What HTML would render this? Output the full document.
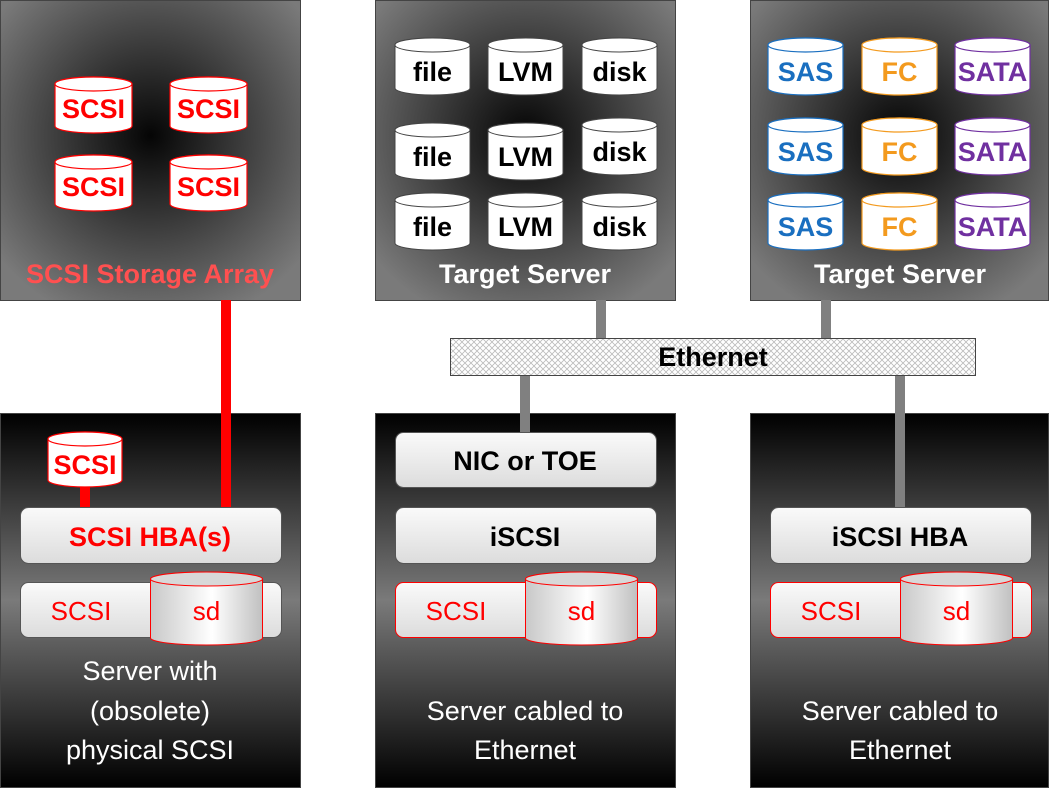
<!DOCTYPE html>
<html><head><meta charset="utf-8"><style>
html,body{margin:0;padding:0;background:#fff;}
svg{display:block;font-family:"Liberation Sans",sans-serif;}
</style></head><body>
<svg width="1050" height="788" viewBox="0 0 1050 788" xmlns="http://www.w3.org/2000/svg">
<defs>
<radialGradient id="rg" cx="50%" cy="45%" r="65%">
<stop offset="0" stop-color="#050505"/><stop offset="1" stop-color="#7a7a7a"/></radialGradient>
<linearGradient id="lg" x1="0" y1="0" x2="0" y2="1">
<stop offset="0" stop-color="#000"/><stop offset="0.5" stop-color="#7a7a7a"/><stop offset="1" stop-color="#000"/></linearGradient>
<linearGradient id="box" x1="0" y1="0" x2="0" y2="1">
<stop offset="0" stop-color="#fafafa"/><stop offset="1" stop-color="#dcdcdc"/></linearGradient>
<linearGradient id="cyl" x1="0" y1="0" x2="1" y2="0">
<stop offset="0" stop-color="#c8c8c8"/><stop offset="0.55" stop-color="#ffffff"/><stop offset="1" stop-color="#c0c0c0"/></linearGradient>
<pattern id="hatch" width="6" height="6" patternUnits="userSpaceOnUse">
<rect width="6" height="6" fill="#fff"/><path d="M0 0L6 6M6 0L0 6" stroke="#bbb" stroke-width="0.8"/></pattern>
</defs>

<rect x="0.5" y="0.5" width="300" height="300" fill="url(#rg)" stroke="#444"/>
<rect x="375.5" y="0.5" width="300" height="300" fill="url(#rg)" stroke="#444"/>
<rect x="750.5" y="0.5" width="298" height="300" fill="url(#rg)" stroke="#444"/>
<rect x="0.5" y="413.5" width="300" height="374" fill="url(#lg)" stroke="#444"/>
<rect x="375.5" y="413.5" width="300" height="374" fill="url(#lg)" stroke="#444"/>
<rect x="750.5" y="413.5" width="298" height="374" fill="url(#lg)" stroke="#444"/>

<rect x="596" y="300" width="10" height="38" fill="#808080"/>
<rect x="821" y="300" width="10" height="38" fill="#808080"/>
<rect x="520" y="375" width="10" height="57" fill="#808080"/>
<rect x="895" y="375" width="10" height="132" fill="#808080"/>
<rect x="221" y="300" width="10" height="207" fill="#f00"/>
<rect x="80" y="487" width="10" height="20" fill="#f00"/>

<rect x="450.5" y="338.5" width="525" height="37" fill="url(#hatch)" stroke="#444"/>
<text x="713" y="366" font-size="27" font-weight="bold" text-anchor="middle" fill="#000">Ethernet</text>

<g stroke="#f00" stroke-width="1.2" fill="#fff">
<path d="M55 84A38.5 7 0 0 1 132 84V126A38.5 7 0 0 1 55 126Z"/><ellipse cx="93.5" cy="84" rx="38.5" ry="7"/>
<path d="M170 84A38.5 7 0 0 1 247 84V126A38.5 7 0 0 1 170 126Z"/><ellipse cx="208.5" cy="84" rx="38.5" ry="7"/>
<path d="M55 162A38.5 7 0 0 1 132 162V204A38.5 7 0 0 1 55 204Z"/><ellipse cx="93.5" cy="162" rx="38.5" ry="7"/>
<path d="M170 162A38.5 7 0 0 1 247 162V204A38.5 7 0 0 1 170 204Z"/><ellipse cx="208.5" cy="162" rx="38.5" ry="7"/>
<path d="M48 439A37 7 0 0 1 122 439V480A37 7 0 0 1 48 480Z"/><ellipse cx="85" cy="439" rx="37" ry="7"/>
</g>
<g fill="#f00" font-size="27" font-weight="bold" text-anchor="middle">
<text x="93.5" y="118">SCSI</text><text x="208.5" y="118">SCSI</text>
<text x="93.5" y="196">SCSI</text><text x="208.5" y="196">SCSI</text>
<text x="85" y="474">SCSI</text>
</g>
<text x="150" y="283" font-size="27" font-weight="bold" fill="#ff5050" text-anchor="middle">SCSI Storage Array</text>

<g stroke="#444" stroke-width="1" fill="#fff">
<path d="M395 45A37.5 7 0 0 1 470 45V88A37.5 7 0 0 1 395 88Z"/><ellipse cx="432.5" cy="45" rx="37.5" ry="7"/>
<path d="M488 45A37.5 7 0 0 1 563 45V88A37.5 7 0 0 1 488 88Z"/><ellipse cx="525.5" cy="45" rx="37.5" ry="7"/>
<path d="M582 45A37.5 7 0 0 1 657 45V88A37.5 7 0 0 1 582 88Z"/><ellipse cx="619.5" cy="45" rx="37.5" ry="7"/>
<path d="M395 130A37.5 7 0 0 1 470 130V173A37.5 7 0 0 1 395 173Z"/><ellipse cx="432.5" cy="130" rx="37.5" ry="7"/>
<path d="M488 130A37.5 7 0 0 1 563 130V173A37.5 7 0 0 1 488 173Z"/><ellipse cx="525.5" cy="130" rx="37.5" ry="7"/>
<path d="M582 125A37.5 7 0 0 1 657 125V168A37.5 7 0 0 1 582 168Z"/><ellipse cx="619.5" cy="125" rx="37.5" ry="7"/>
<path d="M395 200A37.5 7 0 0 1 470 200V243A37.5 7 0 0 1 395 243Z"/><ellipse cx="432.5" cy="200" rx="37.5" ry="7"/>
<path d="M488 200A37.5 7 0 0 1 563 200V243A37.5 7 0 0 1 488 243Z"/><ellipse cx="525.5" cy="200" rx="37.5" ry="7"/>
<path d="M582 200A37.5 7 0 0 1 657 200V243A37.5 7 0 0 1 582 243Z"/><ellipse cx="619.5" cy="200" rx="37.5" ry="7"/>
</g>
<g fill="#000" font-size="27" font-weight="bold" text-anchor="middle">
<text x="432.5" y="81">file</text><text x="525.5" y="81">LVM</text><text x="619.5" y="81">disk</text>
<text x="432.5" y="166">file</text><text x="525.5" y="166">LVM</text><text x="619.5" y="161">disk</text>
<text x="432.5" y="236">file</text><text x="525.5" y="236">LVM</text><text x="619.5" y="236">disk</text>
</g>
<text x="525" y="283" font-size="27" font-weight="bold" fill="#fff" text-anchor="middle">Target Server</text>

<g stroke-width="1.2" fill="#fff">
<g stroke="#1a6fc0">
<path d="M768 45A37.5 7 0 0 1 843 45V88A37.5 7 0 0 1 768 88Z"/><ellipse cx="805.5" cy="45" rx="37.5" ry="7"/>
<path d="M768 125A37.5 7 0 0 1 843 125V168A37.5 7 0 0 1 768 168Z"/><ellipse cx="805.5" cy="125" rx="37.5" ry="7"/>
<path d="M768 200A37.5 7 0 0 1 843 200V243A37.5 7 0 0 1 768 243Z"/><ellipse cx="805.5" cy="200" rx="37.5" ry="7"/>
</g>
<g stroke="#f39a1e">
<path d="M862 45A37.5 7 0 0 1 937 45V88A37.5 7 0 0 1 862 88Z"/><ellipse cx="899.5" cy="45" rx="37.5" ry="7"/>
<path d="M862 125A37.5 7 0 0 1 937 125V168A37.5 7 0 0 1 862 168Z"/><ellipse cx="899.5" cy="125" rx="37.5" ry="7"/>
<path d="M862 200A37.5 7 0 0 1 937 200V243A37.5 7 0 0 1 862 243Z"/><ellipse cx="899.5" cy="200" rx="37.5" ry="7"/>
</g>
<g stroke="#7030a0">
<path d="M955 45A37.5 7 0 0 1 1030 45V88A37.5 7 0 0 1 955 88Z"/><ellipse cx="992.5" cy="45" rx="37.5" ry="7"/>
<path d="M955 125A37.5 7 0 0 1 1030 125V168A37.5 7 0 0 1 955 168Z"/><ellipse cx="992.5" cy="125" rx="37.5" ry="7"/>
<path d="M955 200A37.5 7 0 0 1 1030 200V243A37.5 7 0 0 1 955 243Z"/><ellipse cx="992.5" cy="200" rx="37.5" ry="7"/>
</g>
</g>
<g font-size="27" font-weight="bold" text-anchor="middle">
<g fill="#1a6fc0"><text x="805.5" y="81">SAS</text><text x="805.5" y="161">SAS</text><text x="805.5" y="236">SAS</text></g>
<g fill="#f39a1e"><text x="899.5" y="81">FC</text><text x="899.5" y="161">FC</text><text x="899.5" y="236">FC</text></g>
<g fill="#7030a0"><text x="992.5" y="81">SATA</text><text x="992.5" y="161">SATA</text><text x="992.5" y="236">SATA</text></g>
</g>
<text x="900" y="283" font-size="27" font-weight="bold" fill="#fff" text-anchor="middle">Target Server</text>

<rect x="20.5" y="507.5" width="261" height="56" rx="8" fill="url(#box)" stroke="#555"/>
<text x="150" y="546" font-size="27" font-weight="bold" fill="#f00" text-anchor="middle">SCSI HBA(s)</text>
<rect x="20.5" y="582.5" width="261" height="55" rx="8" fill="url(#box)" stroke="#555"/>
<text x="81" y="620" font-size="26" fill="#f00" text-anchor="middle">SCSI</text>
<path d="M150.5 579A56 7 0 0 1 262.5 579V638A56 7 0 0 1 150.5 638Z" fill="url(#cyl)" stroke="#f00"/>
<ellipse cx="206.5" cy="579" rx="56" ry="7" fill="#d8d8d8" stroke="#f00"/>
<text x="206.5" y="620" font-size="26" fill="#f00" text-anchor="middle">sd</text>
<g font-size="27" fill="#fff" text-anchor="middle">
<text x="150" y="680">Server with</text><text x="150" y="720">(obsolete)</text><text x="150" y="759">physical SCSI</text>
</g>

<rect x="395.5" y="432.5" width="261" height="55" rx="8" fill="url(#box)" stroke="#555"/>
<text x="525" y="470" font-size="27" font-weight="bold" fill="#000" text-anchor="middle">NIC or TOE</text>
<rect x="395.5" y="507.5" width="261" height="56" rx="8" fill="url(#box)" stroke="#555"/>
<text x="525" y="546" font-size="27" font-weight="bold" fill="#000" text-anchor="middle">iSCSI</text>
<rect x="395.5" y="582.5" width="261" height="55" rx="8" fill="url(#box)" stroke="#f00"/>
<text x="456" y="620" font-size="26" fill="#f00" text-anchor="middle">SCSI</text>
<path d="M525.5 579A56 7 0 0 1 637.5 579V638A56 7 0 0 1 525.5 638Z" fill="url(#cyl)" stroke="#f00"/>
<ellipse cx="581.5" cy="579" rx="56" ry="7" fill="#d8d8d8" stroke="#f00"/>
<text x="581.5" y="620" font-size="26" fill="#f00" text-anchor="middle">sd</text>
<g font-size="27" fill="#fff" text-anchor="middle">
<text x="525" y="720">Server cabled to</text><text x="525" y="759">Ethernet</text>
</g>

<rect x="770.5" y="507.5" width="261" height="56" rx="8" fill="url(#box)" stroke="#555"/>
<text x="900" y="546" font-size="27" font-weight="bold" fill="#000" text-anchor="middle">iSCSI HBA</text>
<rect x="770.5" y="582.5" width="261" height="55" rx="8" fill="url(#box)" stroke="#f00"/>
<text x="831" y="620" font-size="26" fill="#f00" text-anchor="middle">SCSI</text>
<path d="M900.5 579A56 7 0 0 1 1012.5 579V638A56 7 0 0 1 900.5 638Z" fill="url(#cyl)" stroke="#f00"/>
<ellipse cx="956.5" cy="579" rx="56" ry="7" fill="#d8d8d8" stroke="#f00"/>
<text x="956.5" y="620" font-size="26" fill="#f00" text-anchor="middle">sd</text>
<g font-size="27" fill="#fff" text-anchor="middle">
<text x="900" y="720">Server cabled to</text><text x="900" y="759">Ethernet</text>
</g>
</svg>
</body></html>
